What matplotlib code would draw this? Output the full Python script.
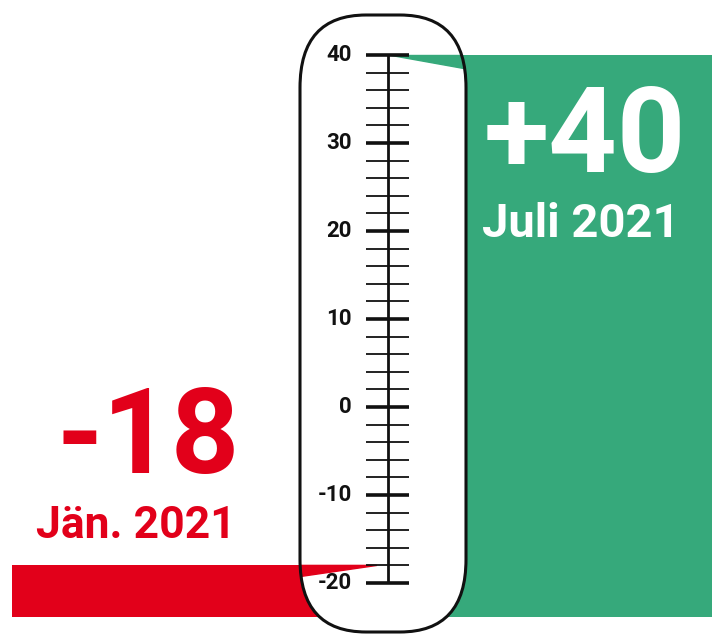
import numpy as np
import matplotlib
matplotlib.use('Agg')
import matplotlib.pyplot as plt
from matplotlib.patches import FancyBboxPatch, Polygon

# Temperaturen (Grad Celsius)
max_temp = 40
min_temp = -18
max_label = '+40'
max_month = 'Juli 2021'
min_label = '-18'
min_month = 'Jän. 2021'
scale_ticks = list(range(-20, 41, 2))
scale_labels = list(range(-20, 41, 10))

green = '#36a97b'
red = '#e2001a'

px_per_deg = 8.8
y_top = 40 + 55 / px_per_deg
y_bot = 40 - 581 / px_per_deg
floor = -23.9

plt.rcParams['font.family'] = ['Roboto', 'DejaVu Sans']

fig = plt.figure(figsize=(7.12, 6.36), dpi=100)
ax = fig.add_axes([0, 0, 1, 1])
ax.set_xlim(0, 712)
ax.set_ylim(y_bot, y_top)
ax.axis('off')

# Balken
ax.bar(12, min_temp - floor, bottom=floor, width=330, align='edge',
       color=red, zorder=1)
ax.bar(440, max_temp - floor, bottom=floor, width=272, align='edge',
       color=green, zorder=1)

# Thermometer
t_x0, t_x1 = 300, 466
t_y0 = 40 - (632 - 55) / px_per_deg
t_y1 = 40 + (55 - 15) / px_per_deg
style = 'round,pad=0,rounding_size=66'
asp = 1.1 / px_per_deg
body = FancyBboxPatch((t_x0, t_y0), t_x1 - t_x0, t_y1 - t_y0, boxstyle=style,
                      mutation_aspect=asp, facecolor='white',
                      edgecolor='none', zorder=2)
ax.add_patch(body)

axis_x = 388
# Keile
w_red = Polygon([(280, min_temp), (axis_x - 11, min_temp),
                 (280, min_temp - 1.6)], closed=True, color=red, zorder=3)
w_green = Polygon([(axis_x + 3, max_temp), (480, max_temp),
                   (480, max_temp - 1.8)], closed=True, color=green, zorder=3)
for w in (w_red, w_green):
    ax.add_patch(w)
    w.set_clip_path(body)

# Skala
ax.plot([axis_x, axis_x], [scale_ticks[0], scale_ticks[-1]], color='#111111',
        lw=2.0, zorder=4, solid_capstyle='butt')
for t in scale_ticks:
    lw = 2.6 if t % 10 == 0 else 1.3
    ax.plot([366, 409], [t, t], color='#111111', lw=lw, zorder=4,
            solid_capstyle='butt')
for t in scale_labels:
    ax.text(352, t, str(t), ha='right', va='center', fontsize=16,
            fontweight='bold', color='#111111', zorder=4)

outline = FancyBboxPatch((t_x0, t_y0), t_x1 - t_x0, t_y1 - t_y0, boxstyle=style,
                         mutation_aspect=asp, facecolor='none',
                         edgecolor='#111111', lw=2.2, zorder=5)
ax.add_patch(outline)

# Beschriftungen
ax.text(585, 40 - (172 - 55) / px_per_deg, max_label, ha='center',
        va='baseline', fontsize=86, fontweight='bold',
        color='white', zorder=6)
ax.text(581, 40 - (237 - 55) / px_per_deg, max_month, ha='center',
        va='baseline', fontsize=34, fontweight='bold',
        color='white', zorder=6)
ax.text(240, 40 - (473 - 55) / px_per_deg, min_label, ha='right',
        va='baseline', fontsize=86, fontweight='bold',
        color=red, zorder=6)
ax.text(236, 40 - (538 - 55) / px_per_deg, min_month, ha='right',
        va='baseline', fontsize=32, fontweight='bold',
        color=red, zorder=6)

fig.savefig('out.png', dpi=100)
